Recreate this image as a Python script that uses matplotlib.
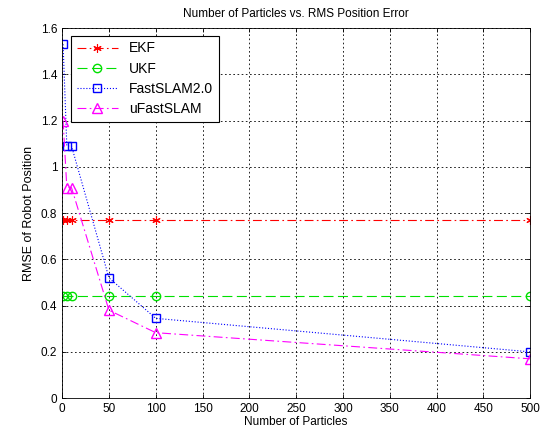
import matplotlib.pyplot as plt
from matplotlib.ticker import FuncFormatter

plt.rcParams['font.family'] = ['Liberation Sans', 'DejaVu Sans']
plt.rcParams['font.size'] = 8.5

particles = [1, 5, 10, 50, 100, 500]
ekf = [0.77, 0.77, 0.77, 0.77, 0.77, 0.77]
ukf = [0.44, 0.44, 0.44, 0.44, 0.44, 0.44]
fastslam2 = [1.53, 1.09, 1.09, 0.52, 0.345, 0.20]
ufastslam = [1.20, 0.91, 0.91, 0.38, 0.283, 0.17]

fig = plt.figure(figsize=(5.5, 4.38), dpi=100)
ax = fig.add_axes([0.113, 0.091, 0.851, 0.845])

dashdot = (0, (8, 3, 1.5, 3))
ax.plot(particles, ekf, color='red', linestyle=dashdot, marker=(6, 2, 0), markersize=6,
        markeredgewidth=0.8, linewidth=0.8, label='EKF')
ax.plot(particles, ukf, color='#00e000', linestyle=(0, (9, 4)), marker='o', markersize=6,
        fillstyle='none', linewidth=0.8, label='UKF')
ax.plot(particles, fastslam2, color='blue', linestyle=':', marker='s', markersize=6,
        fillstyle='none', linewidth=0.8, label='FastSLAM2.0')
ax.plot(particles, ufastslam, color='magenta', linestyle=dashdot, marker='^', markersize=7,
        fillstyle='none', linewidth=0.8, label='uFastSLAM')

ax.set_xlim(0, 500)
ax.set_ylim(0, 1.6)
ax.set_xticks(range(0, 501, 50))
ax.set_yticks([i * 0.2 for i in range(9)])
ax.yaxis.set_major_formatter(FuncFormatter(lambda v, p: '%g' % round(v, 2)))
ax.grid(True, color='black', linestyle=(0, (2, 3)), linewidth=0.6)
ax.tick_params(direction='in', top=True, right=True, length=3, width=0.6)
for s in ax.spines.values():
    s.set_linewidth(0.6)

ax.set_title('Number of Particles vs. RMS Position Error', fontsize=8.5, pad=8)
ax.set_xlabel('Number of Particles', labelpad=1)
ax.set_ylabel('RMSE of Robot Position', fontsize=9)

leg = ax.legend(loc='upper left', bbox_to_anchor=(0.01, 0.99), fancybox=False,
                framealpha=1, edgecolor='black', fontsize=10, handlelength=3,
                labelspacing=0.45, borderaxespad=0.3)
leg.get_frame().set_linewidth(0.8)

fig.savefig('out.png', dpi=100)
